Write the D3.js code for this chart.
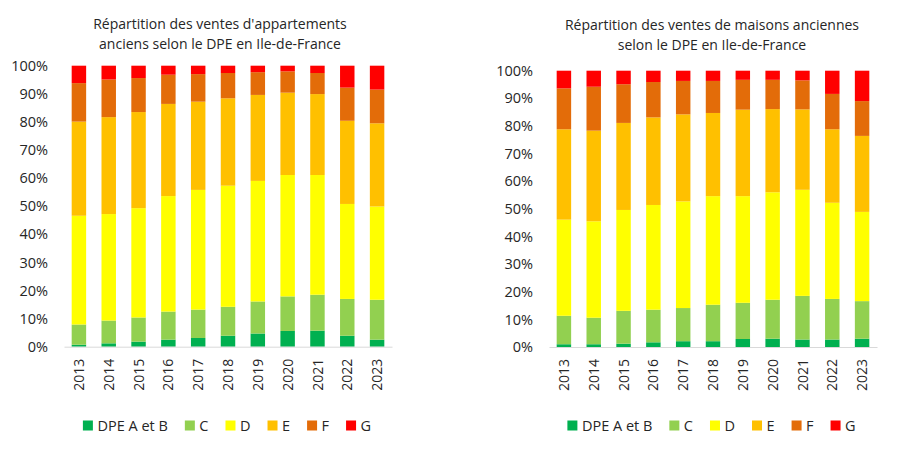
<!DOCTYPE html>
<html>
<head>
<meta charset="utf-8">
<script src="https://cdn.jsdelivr.net/npm/d3@7"></script>
<style>
  html, body { margin: 0; padding: 0; background: #fff; }
  svg { display: block; font-family: "Open Sans", Lato, sans-serif; }
</style>
</head>
<body>
<svg id="chart" width="900" height="449"></svg>
<script>
// ---- Data ----
const years = ["2013","2014","2015","2016","2017","2018","2019","2020","2021","2022","2023"];
const seriesKeys = ["DPE A et B","C","D","E","F","G"];
const seriesColors = ["#00B050","#92D050","#FFFF00","#FFC000","#E36C09","#FF0000"];
const yTicks = [0,10,20,30,40,50,60,70,80,90,100];

// Appartements anciens (% of sales)
const apptAB = [0.7,1.2,1.8,2.5,3.1,3.9,4.7,5.6,5.7,3.9,2.5];
const apptC  = [7.2,8.1,8.6,10.0,10.1,10.3,11.4,12.3,12.8,13.1,14.2];
const apptD  = [38.7,37.9,38.9,41.1,42.6,43.1,42.9,43.2,42.6,33.8,33.2];
const apptE  = [33.5,34.5,34.2,32.8,31.4,31.1,30.6,29.3,28.8,29.6,29.6];
const apptF  = [13.7,13.4,12.1,10.4,9.8,9.0,8.1,7.6,7.5,11.8,12.0];
const apptG  = [6.2,4.9,4.4,3.2,3.0,2.6,2.3,2.0,2.6,7.8,8.5];

// Maisons anciennes (% of sales)
const maisAB = [1.0,1.0,1.2,1.7,2.1,2.1,2.9,3.0,2.7,2.7,3.0];
const maisC  = [10.3,9.6,11.9,11.8,12.0,13.2,13.1,14.1,15.8,14.7,13.6];
const maisD  = [34.8,34.9,36.5,37.9,38.6,39.3,38.6,38.9,38.4,34.8,32.3];
const maisE  = [32.7,32.8,31.5,31.7,31.5,30.1,31.3,30.1,29.1,26.6,27.5];
const maisF  = [14.8,15.9,14.0,12.8,12.1,11.6,10.8,10.6,10.5,12.8,12.6];
const maisG  = [6.4,5.8,4.9,4.1,3.7,3.7,3.3,3.3,3.5,8.4,11.0];

const titleAppt = ["Répartition des ventes d'appartements", "anciens selon le DPE en Ile-de-France"];
const titleMais = ["Répartition des ventes de maisons anciennes", "selon le DPE en Ile-de-France"];

const svg = d3.select("#chart");
const textColor = "#262626";
const font = "'Open Sans', Lato, sans-serif";

function buildRows(cols) {
  return years.map((y, i) => {
    const row = { year: y };
    seriesKeys.forEach((k, j) => { row[k] = cols[j][i]; });
    return row;
  });
}

function drawChart(cfg) {
  const g = svg.append("g");
  const x = d3.scaleBand().domain(years).range([cfg.x0, cfg.x1]).paddingInner(0.515).paddingOuter(0.2575);
  const y = d3.scaleLinear().domain([0, 100]).range([cfg.yBottom, cfg.yTop]);
  const color = d3.scaleOrdinal().domain(seriesKeys).range(seriesColors);

  const rows = buildRows(cfg.cols);
  const stacked = d3.stack().keys(seriesKeys)(rows);

  // title
  const t = g.append("text")
    .attr("text-anchor", "middle")
    .attr("fill", textColor)
    .style("font-size", "14px")
    .style("font-family", font);
  cfg.title.forEach((line, i) => {
    t.append("tspan").attr("x", cfg.titleX).attr("y", cfg.titleY + i * 20).text(line);
  });

  // y axis
  const ya = g.append("g")
    .attr("transform", `translate(${cfg.x0},0)`)
    .call(d3.axisLeft(y).tickValues(yTicks).tickSize(0).tickPadding(16).tickFormat(d => d + "%"));
  ya.select(".domain").remove();
  ya.selectAll("text").attr("fill", textColor).style("font-size", "14.5px").style("font-family", font);

  // bars
  g.append("g").selectAll("g")
    .data(stacked)
    .join("g")
    .attr("fill", d => color(d.key))
    .selectAll("rect")
    .data(d => d)
    .join("rect")
    .attr("x", d => x(d.data.year))
    .attr("width", x.bandwidth())
    .attr("y", d => y(d[1]))
    .attr("height", d => y(d[0]) - y(d[1]));

  // x axis
  const xa = g.append("g")
    .attr("transform", `translate(0,${cfg.yBottom})`)
    .call(d3.axisBottom(x).tickSize(0));
  xa.select(".domain").attr("stroke", "#D9D9D9").attr("stroke-width", 1);
  xa.selectAll("text")
    .attr("transform", "rotate(-90)")
    .attr("text-anchor", "end")
    .attr("x", -12)
    .attr("y", 0)
    .attr("dy", "0.36em")
    .attr("fill", textColor)
    .style("font-size", "14px")
    .style("font-family", font);

  // legend
  const leg = g.append("g");
  const items = leg.selectAll("g").data(seriesKeys).join("g");
  items.append("rect").attr("width", 10).attr("height", 10).attr("y", cfg.legendY - 10.5).attr("fill", d => color(d));
  items.append("text").attr("x", 14.5).attr("y", cfg.legendY).attr("fill", textColor)
    .style("font-size", "14.5px").style("font-family", font).text(d => d);
  const widths = [];
  items.each(function () {
    widths.push(this.querySelector("text").getComputedTextLength() + 14.5);
  });
  const gap = 17;
  const total = d3.sum(widths) + gap * (widths.length - 1);
  let start = cfg.legendCX - total / 2;
  items.attr("transform", (d, i) => {
    const tx = start;
    start += widths[i] + gap;
    return `translate(${tx},0)`;
  });
}

drawChart({
  cols: [apptAB, apptC, apptD, apptE, apptF, apptG],
  title: titleAppt,
  titleX: 220, titleY: 28.5,
  x0: 64, x1: 392, yTop: 65.7, yBottom: 346.7,
  legendCX: 227, legendY: 431
});

drawChart({
  cols: [maisAB, maisC, maisD, maisE, maisF, maisG],
  title: titleMais,
  titleX: 712, titleY: 30,
  x0: 549, x1: 877, yTop: 70.7, yBottom: 347,
  legendCX: 711.5, legendY: 431
});
</script>
</body>
</html>
